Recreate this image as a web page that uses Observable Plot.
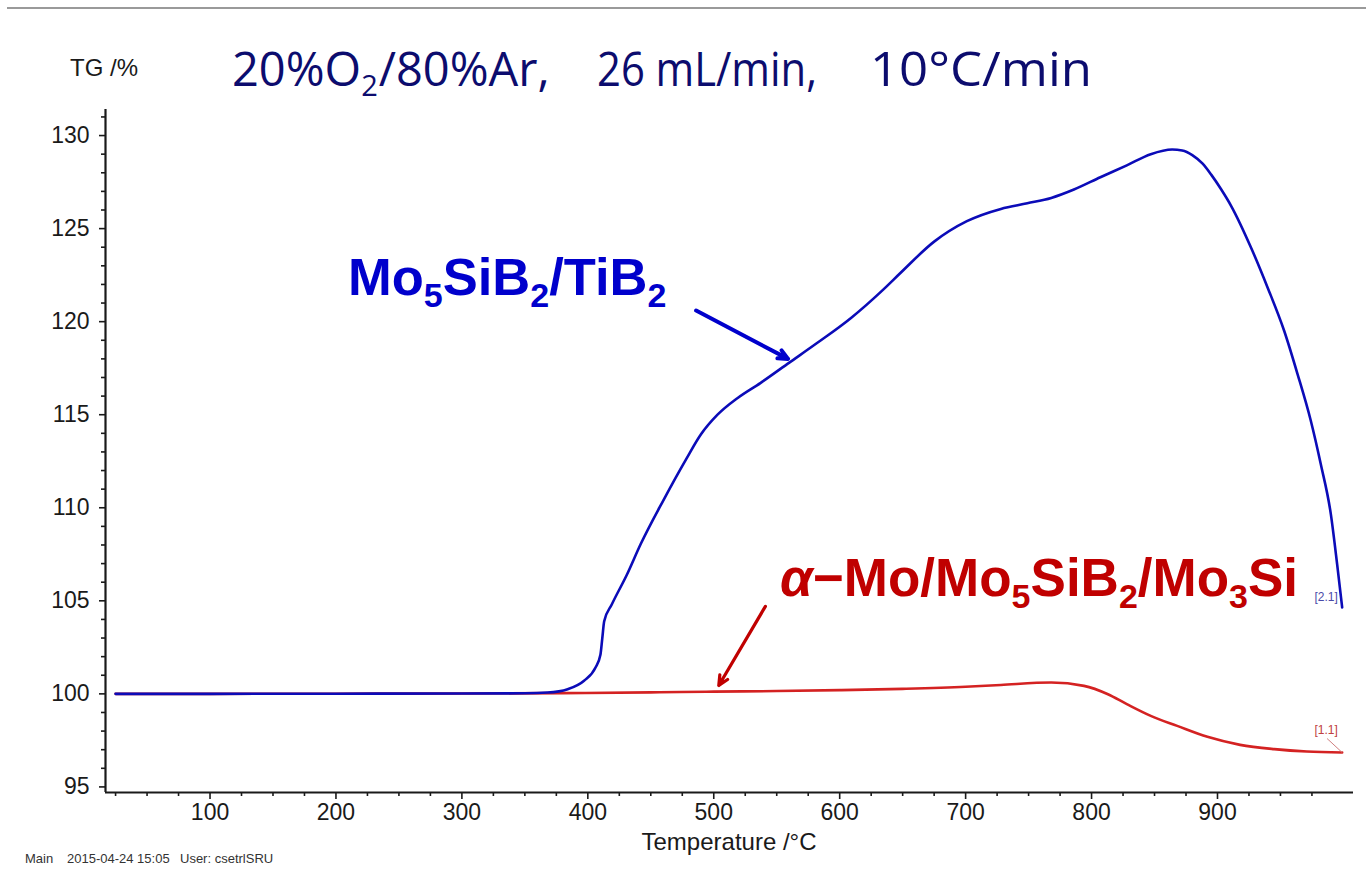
<!DOCTYPE html>
<html>
<head>
<meta charset="utf-8">
<script src="https://cdn.jsdelivr.net/npm/d3@7"></script>
<script src="https://cdn.jsdelivr.net/npm/@observablehq/plot@0.6"></script>
<style>
  html, body { margin: 0; padding: 0; background: #fff; }
  #wrap { position: relative; width: 1366px; height: 869px; overflow: hidden; }
  #wrap > svg { position: absolute; left: 0; top: 0; }
  #overlay { position: absolute; left: 0; top: 0; pointer-events: none; }
</style>
</head>
<body>
<div id="wrap"></div>
<script>
// ---- data ----
const T_BLUE  = [25, 100, 200, 300, 350, 368, 384, 397, 406, 410, 411.5, 413, 419, 431, 442, 460, 478, 490, 503, 519, 537, 560, 582, 609, 635, 648, 675, 701, 728, 749, 768, 786, 807, 828, 847, 864, 872, 880, 888, 895, 903, 911, 926.5, 940, 953, 963.5, 974, 982, 990, 995, 999];
const TG_BLUE = [100, 100, 100.01, 100.02, 100.03, 100.07, 100.25, 100.7, 101.4, 102.1, 103.0, 103.9, 104.8, 106.4, 108.05, 110.4, 112.6, 113.96, 115.0, 115.9, 116.7, 117.8, 118.85, 120.2, 121.75, 122.6, 124.3, 125.4, 126.06, 126.36, 126.65, 127.1, 127.76, 128.4, 129.0, 129.25, 129.2, 128.95, 128.5, 127.9, 127.1, 126.2, 124.0, 121.8, 119.5, 117.2, 114.7, 112.35, 109.66, 106.97, 104.64];

const T_RED  = [25, 100, 200, 300, 380, 450, 500, 550, 600, 650, 700, 728, 768, 794, 813, 828, 847, 868, 892, 918, 945, 971, 999];
const TG_RED = [100, 100, 100.01, 100.02, 100.04, 100.08, 100.12, 100.15, 100.2, 100.27, 100.38, 100.48, 100.61, 100.43, 99.98, 99.45, 98.82, 98.28, 97.69, 97.26, 97.03, 96.9, 96.85];

const X_MAJOR = [100, 200, 300, 400, 500, 600, 700, 800, 900];
const X_MINOR = [25, 50, 75, 125, 150, 175, 225, 250, 275, 325, 350, 375, 425, 450, 475, 525, 550, 575, 625, 650, 675, 725, 750, 775, 825, 850, 875, 925, 950, 975];
const Y_MAJOR = [95, 100, 105, 110, 115, 120, 125, 130];
const Y_MINOR = [96, 97, 98, 99, 101, 102, 103, 104, 106, 107, 108, 109, 111, 112, 113, 114, 116, 117, 118, 119, 121, 122, 123, 124, 126, 127, 128, 129, 131];

// annotation arrows (data coordinates)
const ARROW_SERIES = ["blue", "red"];
const ARROW_T1  = [486, 541];
const ARROW_TG1 = [120.6, 104.7];
const ARROW_T2  = [559, 504];
const ARROW_TG2 = [118.0, 100.45];

const END_TAGS = ["[2.1]", "[1.1]"];

// ---- build tables ----
const blue = T_BLUE.map((t, i) => ({t, v: TG_BLUE[i]}));
const red  = T_RED.map((t, i) => ({t, v: TG_RED[i]}));
const arrows = ARROW_SERIES.map((s, i) => ({s, x1: ARROW_T1[i], y1: ARROW_TG1[i], x2: ARROW_T2[i], y2: ARROW_TG2[i]}));
const COL = {blue: "#0b0bb8", red: "#d42222"};
const X_DOMAIN = [17, 1008];
const Y_DOMAIN = [94.7, 131.4];

const lastBlue = blue[blue.length - 1];
const lastRed = red[red.length - 1];

const chart = Plot.plot({
  width: 1366,
  height: 869,
  marginLeft: 105,
  marginRight: 13,
  marginTop: 109,
  marginBottom: 77,
  style: {fontFamily: "'Liberation Sans', Arial, sans-serif", fontSize: "23px", color: "#1a1a1a", background: "transparent"},
  x: {domain: X_DOMAIN},
  y: {domain: Y_DOMAIN},
  marks: [
    Plot.axisX({ticks: X_MAJOR, tickSize: 7, tickPadding: 4, strokeWidth: 1.6, label: null, tickFormat: d => String(d)}),
    Plot.axisX({ticks: X_MINOR, tickSize: 4, strokeWidth: 1.6, label: null, tickFormat: () => ""}),
    Plot.axisY({ticks: Y_MAJOR, tickSize: 6, tickPadding: 10, strokeWidth: 1.6, label: null, tickFormat: d => String(d)}),
    Plot.axisY({ticks: Y_MINOR, tickSize: 4, strokeWidth: 1.6, label: null, tickFormat: () => ""}),
    Plot.ruleY([Y_DOMAIN[0]], {stroke: "#1a1a1a", strokeWidth: 2.2}),
    Plot.ruleX([X_DOMAIN[0]], {stroke: "#1a1a1a", strokeWidth: 2.2}),
    Plot.line(red, {x: "t", y: "v", stroke: COL.red, strokeWidth: 2.6, curve: "monotone-x"}),
    Plot.line(blue, {x: "t", y: "v", stroke: COL.blue, strokeWidth: 2.6, curve: "monotone-x"}),
    Plot.arrow(arrows, {x1: "x1", y1: "y1", x2: "x2", y2: "y2", stroke: d => d.s === "blue" ? "#0000cc" : "#c00000", strokeWidth: d => d.s === "blue" ? 4 : 3.2, headLength: 16, headAngle: 50}),
    Plot.text([lastBlue], {x: "t", y: "v", text: () => END_TAGS[0], fill: "#4a4aa8", fontSize: 12, dx: -16, dy: -10, textAnchor: "middle"}),
    Plot.text([lastRed], {x: "t", y: "v", text: () => END_TAGS[1], fill: "#c04040", fontSize: 12, dx: -16, dy: -22, textAnchor: "middle"}),
    Plot.link([{a: lastRed}], {x1: d => d.a.t - 12, y1: d => d.a.v + 0.75, x2: d => d.a.t, y2: d => d.a.v, stroke: "#d08080", strokeWidth: 1})
  ]
});
document.getElementById("wrap").appendChild(chart);

// ---- text overlay (title, labels, footer) ----
const NS = "http://www.w3.org/2000/svg";
const ov = document.createElementNS(NS, "svg");
ov.setAttribute("id", "overlay");
ov.setAttribute("width", 1366);
ov.setAttribute("height", 869);
document.getElementById("wrap").appendChild(ov);

function addText(x, y, parts, attrs) {
  const t = document.createElementNS(NS, "text");
  t.setAttribute("x", x);
  t.setAttribute("y", y);
  for (const k in attrs) t.setAttribute(k, attrs[k]);
  for (const p of parts) {
    const s = document.createElementNS(NS, "tspan");
    s.textContent = p.t;
    if (p.sub) { s.setAttribute("font-size", p.sub); s.setAttribute("dy", p.dy); }
    if (p.back) s.setAttribute("dy", p.back);
    if (p.dx) s.setAttribute("dx", p.dx);
    if (p.italic) s.setAttribute("font-style", "italic");
    t.appendChild(s);
  }
  ov.appendChild(t);
  return t;
}

// top gray rule
const ln = document.createElementNS(NS, "line");
ln.setAttribute("x1", 7); ln.setAttribute("x2", 1366); ln.setAttribute("y1", 8); ln.setAttribute("y2", 8);
ln.setAttribute("stroke", "#9a9a9a"); ln.setAttribute("stroke-width", 2);
ov.appendChild(ln);

const titleAttrs = {"font-family": "'Open Sans', 'Noto Sans', sans-serif", "font-size": 47, fill: "#0c0c6e"};
addText(232, 86, [{t: "20%O"}, {t: "2", sub: 29, dy: 10}, {t: "/80%Ar,", back: -10, dx: 1}], titleAttrs);
addText(597, 86, [{t: "26 mL/min,"}], Object.assign({textLength: 220, lengthAdjust: "spacingAndGlyphs"}, titleAttrs));
addText(870, 86, [{t: "10°C/min"}], Object.assign({textLength: 222, lengthAdjust: "spacingAndGlyphs"}, titleAttrs));

addText(70, 76, [{t: "TG /%"}], {"font-family": "'Liberation Sans', Arial, sans-serif", "font-size": 24, fill: "#1a1a1a"});
addText(729, 850, [{t: "Temperature /°C"}], {"font-family": "'Liberation Sans', Arial, sans-serif", "font-size": 24, fill: "#1a1a1a", "text-anchor": "middle"});

const footAttrs = {"font-family": "'Liberation Sans', Arial, sans-serif", "font-size": 13, fill: "#333"};
addText(25, 863, [{t: "Main"}], footAttrs);
addText(67, 863, [{t: "2015-04-24 15:05"}], footAttrs);
addText(180, 863, [{t: "User: csetrlSRU"}], footAttrs);

const lblAttrsB = {"font-family": "'Liberation Sans', Arial, sans-serif", "font-size": 52.5, "font-weight": "bold", fill: "#0000cc"};
addText(348, 295, [{t: "Mo"}, {t: "5", sub: 34, dy: 12}, {t: "SiB", back: -12}, {t: "2", sub: 34, dy: 12}, {t: "/TiB", back: -12}, {t: "2", sub: 34, dy: 12}], lblAttrsB);

const lblAttrsR = {"font-family": "'Liberation Sans', Arial, sans-serif", "font-size": 53, "font-weight": "bold", fill: "#c00000"};
addText(780, 596, [{t: "α", italic: true}, {t: "−Mo/Mo"}, {t: "5", sub: 34, dy: 12}, {t: "SiB", back: -12}, {t: "2", sub: 34, dy: 12}, {t: "/Mo", back: -12}, {t: "3", sub: 34, dy: 12}, {t: "Si", back: -12}], lblAttrsR);
</script>
</body>
</html>
